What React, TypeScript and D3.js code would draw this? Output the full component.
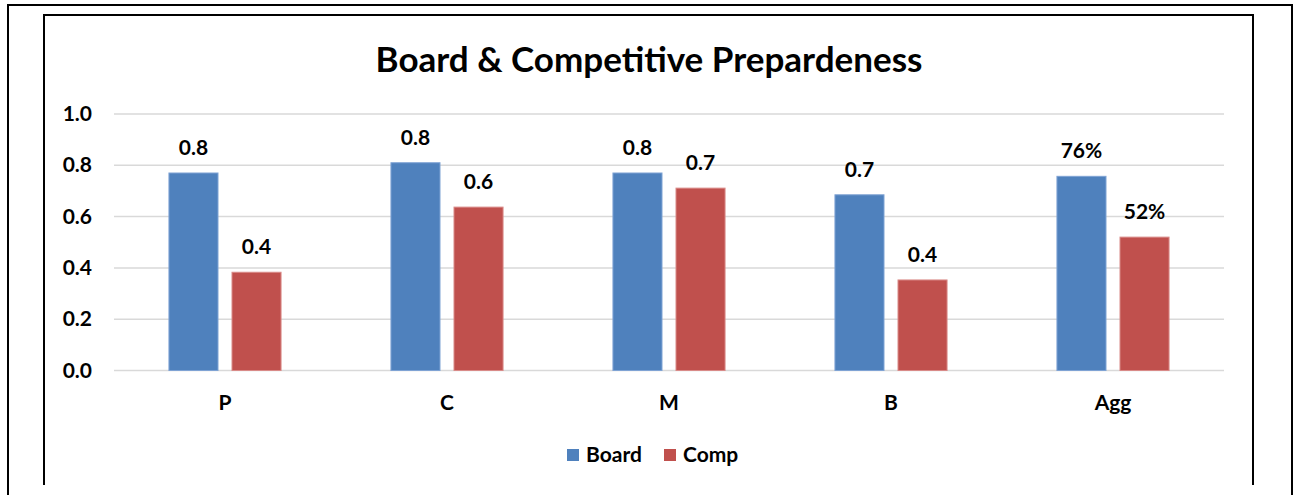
import React, { useEffect, useRef } from 'react';
import * as d3 from 'd3';

const categories = ['P', 'C', 'M', 'B', 'Agg'];
const seriesNames = ['Board', 'Comp'];
const boardValues = [0.77, 0.81, 0.77, 0.685, 0.757];
const compValues = [0.383, 0.637, 0.711, 0.353, 0.52];
const boardLabels = ['0.8', '0.8', '0.8', '0.7', '76%'];
const compLabels = ['0.4', '0.6', '0.7', '0.4', '52%'];
const yTicks = [0, 0.2, 0.4, 0.6, 0.8, 1.0];

const colors = ['#4F81BD', '#C0504D'];
const edges = ['#7FA3D4', '#D98A88'];
const FONT = 'Lato, "Open Sans", sans-serif';

export default function App() {
  const ref = useRef<SVGSVGElement | null>(null);

  useEffect(() => {
    const width = 1296,
      height = 495;

    const svg = d3.select(ref.current).attr('width', width).attr('height', height);
    svg.selectAll('*').remove();

    svg.append('rect').attr('width', width).attr('height', height).attr('fill', '#fff');

    // outer and inner frames (open at the bottom, cropped)
    svg
      .append('path')
      .attr('d', 'M8,495 L8,5 L1292,5 L1292,495')
      .attr('fill', 'none')
      .attr('stroke', '#000')
      .attr('stroke-width', 2);
    svg
      .append('path')
      .attr('d', 'M44,485 L44,15 L1253,15 L1253,485')
      .attr('fill', 'none')
      .attr('stroke', '#000')
      .attr('stroke-width', 2);

    const x = d3
      .scaleBand()
      .domain(categories)
      .range([114, 1224])
      .paddingInner(0.495)
      .paddingOuter(0.2475);

    const xInner = d3
      .scaleBand()
      .domain(seriesNames)
      .range([0, x.bandwidth()])
      .paddingInner(0.222);

    const y = d3.scaleLinear().domain([0, 1]).range([370.5, 114]);

    // gridlines
    svg
      .append('g')
      .selectAll('line')
      .data(yTicks)
      .enter()
      .append('line')
      .attr('x1', 114)
      .attr('x2', 1224)
      .attr('y1', d => y(d))
      .attr('y2', d => y(d))
      .attr('stroke', '#D9D9D9')
      .attr('stroke-width', 1.5);

    // y tick labels
    svg
      .append('g')
      .selectAll('text')
      .data(yTicks)
      .enter()
      .append('text')
      .attr('x', 92)
      .attr('y', d => y(d) + 7)
      .attr('text-anchor', 'end')
      .style('font', `bold 21px ${FONT}`)
      .text(d => d3.format('.1f')(d));

    const series = [
      { name: seriesNames[0], values: boardValues, labels: boardLabels },
      { name: seriesNames[1], values: compValues, labels: compLabels }
    ];

    series.forEach((s, si) => {
      const g = svg.append('g').attr('class', 'series');
      g.selectAll('rect')
        .data(categories)
        .enter()
        .append('rect')
        .attr('x', (c: string) => (x(c) as number) + (xInner(s.name) as number))
        .attr('y', (c: string, i: number) => y(s.values[i]))
        .attr('width', xInner.bandwidth())
        .attr('height', (c: string, i: number) => y(0) - y(s.values[i]))
        .attr('fill', colors[si])
        .attr('stroke', edges[si])
        .attr('stroke-width', 1);

      g.selectAll('text')
        .data(categories)
        .enter()
        .append('text')
        .attr('x', (c: string) => (x(c) as number) + (xInner(s.name) as number) + xInner.bandwidth() / 2)
        .attr('y', (c: string, i: number) => y(s.values[i]) - 18)
        .attr('text-anchor', 'middle')
        .style('font', `bold 21px ${FONT}`)
        .text((c: string, i: number) => s.labels[i]);
    });

    // category labels
    svg
      .append('g')
      .selectAll('text')
      .data(categories)
      .enter()
      .append('text')
      .attr('x', d => (x(d) as number) + x.bandwidth() / 2)
      .attr('y', y(0) + 39)
      .attr('text-anchor', 'middle')
      .style('font', `bold 21px ${FONT}`)
      .text(d => d);

    // title
    svg
      .append('text')
      .attr('x', 649)
      .attr('y', 72)
      .attr('text-anchor', 'middle')
      .style('font', `bold 35px ${FONT}`)
      .text('Board & Competitive Prepardeness');

    // legend
    const legendX = [567, 664];
    const legend = svg
      .append('g')
      .selectAll('g')
      .data(seriesNames)
      .enter()
      .append('g')
      .attr('transform', (d, i) => `translate(${legendX[i]},449)`);
    legend
      .append('rect')
      .attr('width', 12)
      .attr('height', 12)
      .attr('fill', (d, i) => colors[i]);
    legend
      .append('text')
      .attr('x', 19)
      .attr('y', 13)
      .style('font', `bold 21px ${FONT}`)
      .text(d => d);
  }, []);

  return <svg ref={ref} style={{ position: 'absolute', left: 0, top: 0, display: 'block' }} />;
}
